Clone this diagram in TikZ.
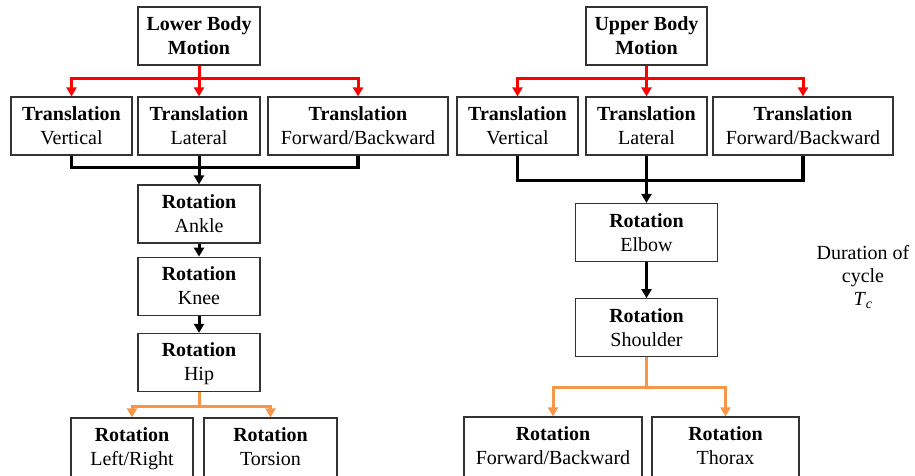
\documentclass[tikz,border=0pt]{standalone}
\usepackage{fontspec}
\setmainfont{Liberation Serif}
\usetikzlibrary{arrows.meta, positioning}
\definecolor{jointorange}{RGB}{247,150,70}

\begin{document}
\begin{tikzpicture}[
        x=1pt, y=-1pt,
        box/.style={draw=black!80, line width=1.2pt, align=center, minimum height=58pt, inner sep=0pt, text height=37pt, text depth=0pt, font=\fontsize{20}{24}\selectfont},
        botbox/.style={box, minimum height=64pt, text depth=6pt},
        red arrow/.style={-{Triangle[width=10pt,length=9pt]}, draw=red, line width=3pt},
        black arrow/.style={-{Triangle[width=10pt,length=9pt]}, draw=black, line width=3pt},
        black line/.style={draw=black, line width=3.5pt},
        orange arrow/.style={-{Triangle[width=10pt,length=9pt]}, draw=jointorange, line width=3pt}
    ]
        \useasboundingbox (0,0) rectangle (915,475);
        \clip (0,0) rectangle (915,475);

        % lower body
        \node[box, minimum width=122pt] (lbm) at (199,36) {\textbf{Lower Body}\\\textbf{Motion}};
        \node[box, minimum width=121pt] (ltv) at (71.5,126) {\textbf{Translation}\\Vertical};
        \node[box, minimum width=122pt] (ltl) at (199,126) {\textbf{Translation}\\Lateral};
        \node[box, minimum width=180pt] (ltf) at (358,126) {\textbf{Translation}\\Forward/Backward};
        \node[box, minimum width=122pt] (ankle) at (199,214) {\textbf{Rotation}\\Ankle};
        \node[box, minimum width=122pt, below=13pt of ankle] (knee) {\textbf{Rotation}\\Knee};
        \node[box, minimum width=122pt, below=17pt of knee] (hip) {\textbf{Rotation}\\Hip};
        \node[botbox, minimum width=122pt] (lrl) at (132,450) {\textbf{Rotation}\\Left/Right};
        \node[botbox, minimum width=133pt] (ltor) at (270.5,450) {\textbf{Rotation}\\Torsion};

        \draw[red arrow] (lbm.south) -- ++(0,13) -| (ltv.north);
        \draw[red arrow] (lbm.south) -- (ltl.north);
        \draw[red arrow] (lbm.south) -- ++(0,13) -| (ltf.north);
        \draw[black line] (ltv.south) -- ++(0,12) -| (ltf.south);
        \draw[black arrow] (ltl.south) -- (ankle.north);
        \draw[black arrow] (ankle.south) -- (knee.north);
        \draw[black arrow] (knee.south) -- (hip.north);
        \draw[orange arrow] (hip.south) -- ++(0,14) -| (lrl.north);
        \draw[orange arrow] (hip.south) -- ++(0,14) -| (ltor.north);

        % upper body
        \node[box, minimum width=121pt] (ubm) at (646.5,36) {\textbf{Upper Body}\\\textbf{Motion}};
        \node[box, minimum width=121pt] (utv) at (517.5,126) {\textbf{Translation}\\Vertical};
        \node[box, minimum width=121pt] (utl) at (646.5,126) {\textbf{Translation}\\Lateral};
        \node[box, minimum width=180pt] (utf) at (803,126) {\textbf{Translation}\\Forward/Backward};
        \node[box, minimum width=142pt] (elbow) at (646.5,232.5) {\textbf{Rotation}\\Elbow};
        \node[box, minimum width=142pt, below=36pt of elbow] (shoulder) {\textbf{Rotation}\\Shoulder};
        \node[botbox, minimum width=178pt] (ufb) at (553,449) {\textbf{Rotation}\\Forward/Backward};
        \node[botbox, minimum width=147pt] (uth) at (725.5,449) {\textbf{Rotation}\\Thorax};

        \draw[red arrow] (ubm.south) -- ++(0,13) -| (utv.north);
        \draw[red arrow] (ubm.south) -- (utl.north);
        \draw[red arrow] (ubm.south) -- ++(0,13) -| (utf.north);
        \draw[black line] (utv.south) -- ++(0,25) -| (utf.south);
        \draw[black arrow] (utl.south) -- (elbow.north);
        \draw[black arrow] (elbow.south) -- (shoulder.north);
        \draw[orange arrow] (shoulder.south) -- ++(0,30) -| (ufb.north);
        \draw[orange arrow] (shoulder.south) -- ++(0,30) -| (uth.north);

        \node[align=center, font=\fontsize{20}{23}\selectfont] (cycle) at (863,277) {Duration of\\cycle\\\textit{T}\textsubscript{\textit{c}}};
    \end{tikzpicture}
\end{document}
